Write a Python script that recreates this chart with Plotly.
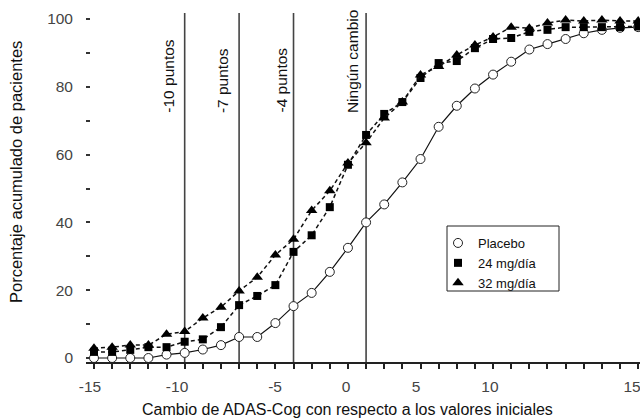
import plotly.graph_objects as go

# ---- data ----
change = list(range(-15, 16))
placebo = [0, 0, 0, 0, 1, 1.5, 2.5, 3.8, 6.2, 6.2, 10.3, 15.3, 19.2, 25.4, 32.5, 40,
           45.3, 51.8, 58.7, 68.2, 74.4, 79.5, 83.6, 87.4, 91, 92.6, 94.1, 95.8, 96.8, 97.4, 97.6]
mg24 = [1.8, 1.8, 2.4, 3.2, 3.2, 4.8, 5.5, 9.1, 15.6, 18.3, 21.5, 31.3, 36.2, 44.5, 57, 65.8,
        72, 75.5, 82.6, 87, 87.6, 91.4, 94.1, 94.4, 96.2, 96.8, 97.6, 97.6, 97.6, 97.6, 97.8]
mg32 = [2.9, 3.2, 3.8, 3.8, 7, 7.8, 11.8, 15, 19.8, 23.8, 30.4, 35, 43.5, 49.3, 57.5, 63.5,
        70.8, 75.5, 83.5, 86, 89.4, 92.3, 94.7, 97.6, 97.3, 98.8, 99.7, 99.4, 99.7, 99.4, 99.4]
series_names = ["Placebo", "24 mg/día", "32 mg/día"]

ref_lines = [-10, -7, -4, 0]
ref_labels = ["-10 puntos", "-7 puntos", "-4 puntos", "Ningún cambio"]
ref_label_shift = [-6, -6, -2, -3]

x_tick_text = ["-15", "-10", "-5", "0", "5", "10", "15"]
x_tick_pos = [-15.22, -10.42, -5.02, -1.11, 2.75, 6.83, 14.66]
y_tick_vals = [0, 20, 40, 60, 80, 100]

FONT = "Arial, Liberation Sans, sans-serif"
X_TITLE = "Cambio de ADAS-Cog con respecto a los valores iniciales"
Y_TITLE = "Porcentaje acumulado de pacientes"

# plot-area geometry in pixels (for paper-coordinate placement of decorations)
L, R, T, B = 86, 640, 13, 362
PW, PH = R - L, B - T


def px(xp):
    return (xp - L) / PW


def py(yp):
    return (B - yp) / PH


styles = [
    dict(line=dict(color="#111", width=1.2, dash="solid"),
         marker=dict(symbol="circle", size=9, color="white", line=dict(color="#222", width=1))),
    dict(line=dict(color="#111", width=1.5, dash="4px,3px"),
         marker=dict(symbol="square", size=8, color="#000", line=dict(width=0))),
    dict(line=dict(color="#111", width=1.5, dash="4px,3px"),
         marker=dict(symbol="triangle-up", size=10, color="#000", line=dict(width=0))),
]

fig = go.Figure()
for name, vals, st in zip(series_names, [placebo, mg24, mg32], styles):
    fig.add_trace(go.Scatter(x=change, y=vals, mode="lines+markers", name=name,
                             line=st["line"], marker=st["marker"], showlegend=False,
                             cliponaxis=False))
for name, st in zip(series_names, styles):
    fig.add_trace(go.Scatter(x=[None], y=[None], mode="markers", name=name,
                             marker=st["marker"], showlegend=True))

for xv, lab, sh in zip(ref_lines, ref_labels, ref_label_shift):
    fig.add_shape(type="line", x0=xv, x1=xv, xref="x", y0=0, y1=1, yref="paper",
                  line=dict(color="#444", width=1.6), layer="below")
    fig.add_annotation(x=xv, xref="x", y=py(115), yref="paper", text=lab,
                       textangle=-90, showarrow=False, xanchor="right", yanchor="bottom",
                       xshift=sh, font=dict(family=FONT, size=15.5, color="#111"))

# legend frame
fig.add_shape(type="rect", xref="paper", yref="paper", x0=px(447), x1=px(559),
              y0=py(291), y1=py(226), line=dict(color="#222", width=1),
              fillcolor="white", layer="above")

fig.add_annotation(x=px(347), xref="paper", y=py(409), yref="paper",
                   text=X_TITLE, showarrow=False, xanchor="center", yanchor="middle",
                   font=dict(family=FONT, size=16, color="#111"))
fig.add_annotation(x=px(16), xref="paper", y=py(172), yref="paper",
                   text=Y_TITLE, textangle=-90, showarrow=False, xanchor="center",
                   yanchor="middle", font=dict(family=FONT, size=16.5, color="#111"))

fig.update_layout(
    width=640, height=419,
    margin=dict(l=L, r=0, t=T, b=419 - B),
    paper_bgcolor="white", plot_bgcolor="white",
    font=dict(family=FONT, size=14, color="#333"),
    showlegend=True,
    legend=dict(x=px(448), y=py(228), xanchor="left", yanchor="top",
                bgcolor="rgba(0,0,0,0)", borderwidth=0,
                font=dict(family=FONT, size=13, color="#111"),
                tracegroupgap=0, itemwidth=30, indentation=-10),
    xaxis=dict(range=[-15.44, 15.1], showgrid=False, zeroline=False,
               showline=True, linecolor="#222", linewidth=1.5,
               tickmode="array", tickvals=x_tick_pos, ticktext=x_tick_text,
               ticks="outside", ticklen=0, tickfont=dict(size=15.5, color="#444"),
               ticklabelstandoff=10, ticklabeloverflow="allow",
               minor=dict(tickmode="array", tickvals=change, ticks="outside", ticklen=5,
                          tickwidth=1.5, tickcolor="#222", showgrid=False)),
    yaxis=dict(range=[-1.18, 101.77], showgrid=False, zeroline=False, showline=False,
               tickmode="array", tickvals=y_tick_vals, ticks="inside", ticklen=4,
               tickwidth=1.5, tickcolor="#333", tickfont=dict(size=15.5, color="#444"),
               ticklabelstandoff=12,
               minor=dict(dtick=10, ticks="inside", ticklen=4, tickwidth=1.5,
                          tickcolor="#333", showgrid=False)),
)

fig.write_html("out.html")
